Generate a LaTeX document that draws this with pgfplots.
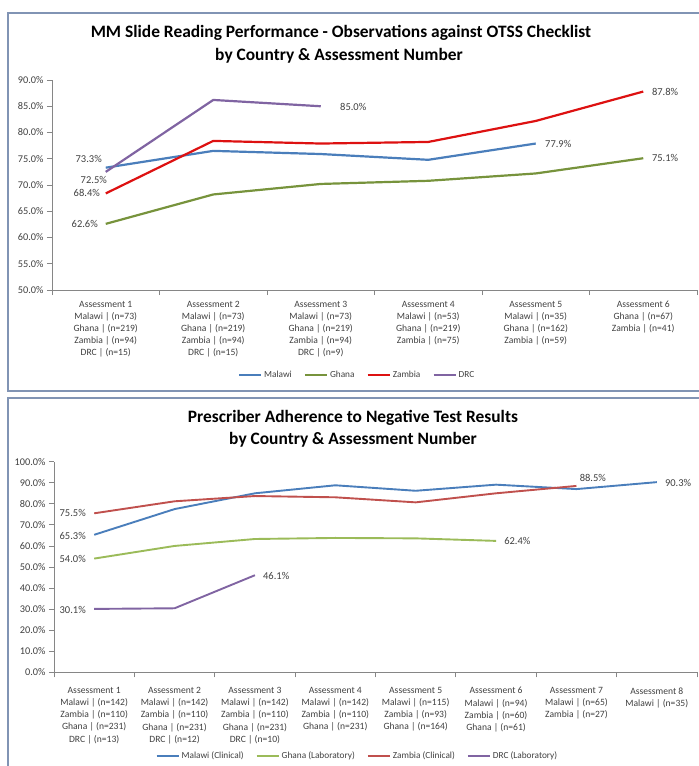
\documentclass[border=0pt]{standalone}
\usepackage{fontspec}
\setmainfont{Carlito}
\usepackage{pgfplots}
\pgfplotsset{compat=1.18}
\definecolor{framec}{HTML}{8194B4}
\definecolor{axisgray}{HTML}{868686}
\definecolor{txt}{HTML}{404040}
\definecolor{mal}{HTML}{4A7EBB}
\definecolor{ghaA}{HTML}{77933C}
\definecolor{zamA}{HTML}{DD1111}
\definecolor{drc}{HTML}{8064A2}
\definecolor{ghaB}{HTML}{9BBB59}
\definecolor{zamB}{HTML}{C0504D}
\tikzset{lbl/.style={font=\fontsize{10.5}{12}\selectfont, text=txt, inner sep=0pt}}
\pgfplotsset{
 excel/.style={
   scale only axis,
   axis x line*=bottom, axis y line*=left,
   axis line style={axisgray, line width=0.8pt, -},
   tick style={axisgray, line width=0.8pt},
   major tick length=5pt,
   tick align=outside,
   /pgf/number format/assume math mode=true,
   yticklabel={\pgfmathprintnumber[fixed,fixed zerofill,precision=1]{\tick}\%},
   yticklabel style={font=\fontsize{10.3}{12}\selectfont, text=txt},
   xticklabel style={font=\fontsize{9.6}{12.1}\selectfont, text=txt, align=center, anchor=north, inner sep=0pt},
   legend columns=4,
   legend style={draw=none, fill=none, font=\fontsize{9.3}{11}\selectfont, text=txt, /tikz/every even column/.append style={column sep=10pt}},
   legend image code/.code={\draw[#1] (0pt,0pt) -- (22pt,0pt);},
   clip=false,
 },
}
\begin{document}
\begin{tikzpicture}
\useasboundingbox (0pt,0pt) rectangle (699pt,-766pt);
\draw[framec, line width=2pt] (8pt,-13pt) rectangle (720pt,-391pt);
\draw[framec, line width=2pt] (8pt,-398pt) rectangle (720pt,-790pt);
\node[font=\bfseries\fontsize{17.4}{20}\selectfont] at (341pt,-33pt) {MM Slide Reading Performance - Observations against OTSS Checklist};
\node[font=\bfseries\fontsize{17.4}{20}\selectfont] at (339pt,-56pt) {by Country \& Assessment Number};
\node[font=\bfseries\fontsize{17.4}{20}\selectfont] at (353pt,-418pt) {Prescriber Adherence to Negative Test Results};
\node[font=\bfseries\fontsize{17.4}{20}\selectfont] at (353pt,-440pt) {by Country \& Assessment Number};

\begin{axis}[excel, at={(52pt,-290pt)}, anchor=south west, width=645pt, height=210pt,
  xmin=0.5, xmax=6.5, ymin=50, ymax=90, ytick={50,55,60,65,70,75,80,85,90},
  xtick={0.5,1.5,2.5,3.5,4.5,5.5,6.5},
  xticklabels={{Assessment 1\\Malawi | (n=73)\\Ghana | (n=219)\\Zambia | (n=94)\\DRC | (n=15)},
               {Assessment 2\\Malawi | (n=73)\\Ghana | (n=219)\\Zambia | (n=94)\\DRC | (n=15)},
               {Assessment 3\\Malawi | (n=73)\\Ghana | (n=219)\\Zambia | (n=94)\\DRC | (n=9)},
               {Assessment 4\\Malawi | (n=53)\\Ghana | (n=219)\\Zambia | (n=75)},
               {Assessment 5\\Malawi | (n=35)\\Ghana | (n=162)\\Zambia | (n=59)},
               {Assessment 6\\Ghana | (n=67)\\Zambia | (n=41)},{}},
  xticklabel style={xshift=53.75pt, yshift=-6pt},
  legend style={at={(0.473,-0.405)}, anchor=center}]
\addplot[mal, line width=2.2pt] coordinates {(1,73.3) (2,76.5) (3,75.9) (4,74.8) (5,77.9)};
\addlegendentry{Malawi}
\addplot[ghaA, line width=2.2pt] coordinates {(1,62.6) (2,68.2) (3,70.2) (4,70.8) (5,72.2) (6,75.1)};
\addlegendentry{Ghana}
\addplot[zamA, line width=2.2pt] coordinates {(1,68.4) (2,78.4) (3,77.9) (4,78.2) (5,82.2) (6,87.8)};
\addlegendentry{Zambia}
\addplot[drc, line width=2.2pt] coordinates {(1,72.5) (2,86.2) (3,85.0)};
\addlegendentry{DRC}
\node[lbl, anchor=east] at (axis cs:0.965,75.0) {73.3\%};
\node[lbl, anchor=east] at (axis cs:1.012,70.95) {72.5\%};
\node[lbl, anchor=east] at (axis cs:0.947,68.42) {68.4\%};
\node[lbl, anchor=east] at (axis cs:0.928,62.57) {62.6\%};
\node[lbl, anchor=west] at (axis cs:3.179,84.9) {85.0\%};
\node[lbl, anchor=west] at (axis cs:6.08,87.66) {87.8\%};
\node[lbl, anchor=west] at (axis cs:5.086,77.8) {77.9\%};
\node[lbl, anchor=west] at (axis cs:6.08,75.14) {75.1\%};
\end{axis}

\begin{axis}[excel, at={(54pt,-672.3pt)}, anchor=south west, width=643pt, height=210.6pt,
  xmin=0.5, xmax=8.5, ymin=0, ymax=100, ytick={0,10,...,100},
  xtick={0.5,1.5,2.5,3.5,4.5,5.5,6.5,7.5,8.5},
  xticklabels={{Assessment 1\\Malawi | (n=142)\\Zambia | (n=110)\\Ghana | (n=231)\\DRC | (n=13)},
               {Assessment 2\\Malawi | (n=142)\\Zambia | (n=110)\\Ghana | (n=231)\\DRC | (n=12)},
               {Assessment 3\\Malawi | (n=142)\\Zambia | (n=110)\\Ghana | (n=231)\\DRC | (n=10)},
               {Assessment 4\\Malawi | (n=142)\\Zambia | (n=110)\\Ghana | (n=231)},
               {Assessment 5\\Malawi | (n=115)\\Zambia | (n=93)\\Ghana | (n=164)},
               {Assessment 6\\Malawi | (n=94)\\Zambia | (n=60)\\Ghana | (n=61)},
               {Assessment 7\\Malawi | (n=65)\\Zambia | (n=27)},
               {Assessment 8\\Malawi | (n=35)},{}},
  xticklabel style={xshift=40.19pt, yshift=-10pt},
  legend style={at={(0.472,-0.397)}, anchor=center}]
\addplot[mal, line width=1.9pt] coordinates {(1,65.3) (2,77.5) (3,85.0) (4,88.8) (5,86.2) (6,89.1) (7,87.0) (8,90.3)};
\addlegendentry{Malawi (Clinical)}
\addplot[ghaB, line width=1.9pt] coordinates {(1,54.0) (2,60.0) (3,63.3) (4,63.8) (5,63.6) (6,62.4)};
\addlegendentry{Ghana (Laboratory)}
\addplot[zamB, line width=1.9pt] coordinates {(1,75.5) (2,81.2) (3,83.7) (4,83.1) (5,80.7) (6,85.0) (7,88.5)};
\addlegendentry{Zambia (Clinical)}
\addplot[drc, line width=1.9pt] coordinates {(1,30.1) (2,30.4) (3,46.1)};
\addlegendentry{DRC (Laboratory)}
\node[lbl, anchor=east] at (axis cs:0.898,75.5) {75.5\%};
\node[lbl, anchor=east] at (axis cs:0.898,64.9) {65.3\%};
\node[lbl, anchor=east] at (axis cs:0.898,53.9) {54.0\%};
\node[lbl, anchor=east] at (axis cs:0.898,29.6) {30.1\%};
\node[lbl, anchor=west] at (axis cs:3.10,45.9) {46.1\%};
\node[lbl, anchor=west] at (axis cs:6.10,62.3) {62.4\%};
\node[lbl, anchor=west] at (axis cs:7.04,92.1) {88.5\%};
\node[lbl, anchor=west] at (axis cs:8.10,90.0) {90.3\%};
\end{axis}
\end{tikzpicture}
\end{document}
